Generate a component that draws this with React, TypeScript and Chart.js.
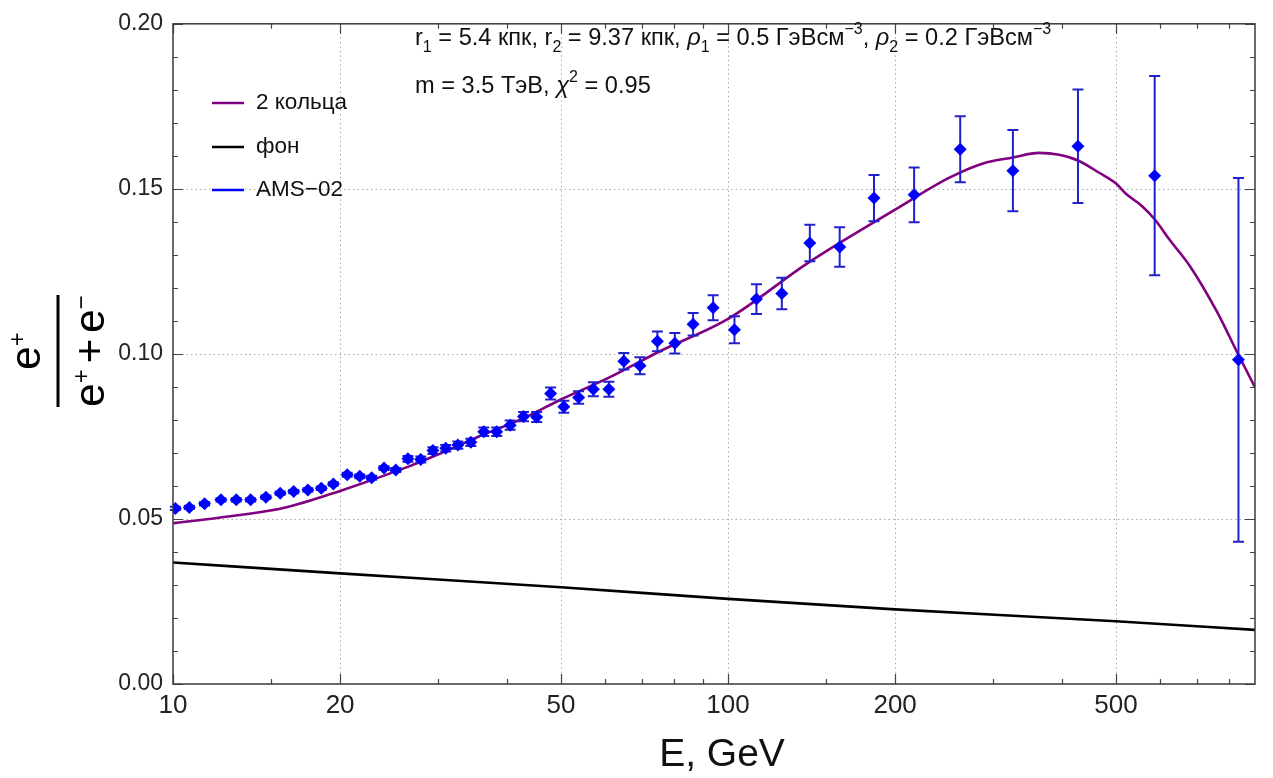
import React, { useEffect, useRef } from 'react';
import { Chart, registerables } from 'chart.js';

Chart.register(...registerables);

const W = 1273;
const H = 778;
const FF = '"Liberation Sans", Arial, Helvetica, sans-serif';

// ---- axis ticks ----
const xTickValues = [10, 20, 50, 100, 200, 500];
const xMinorTicks = [15, 30, 40, 60, 70, 80, 90, 150, 300, 400, 600, 700, 800];
const xGridValues = [20, 50, 100, 200, 500];
const yTickValues = [0, 0.05, 0.1, 0.15, 0.2];
const yMinorTicks = [0.01, 0.02, 0.03, 0.04, 0.06, 0.07, 0.08, 0.09, 0.11, 0.12, 0.13, 0.14, 0.16, 0.17, 0.18, 0.19];
const yGridValues = [0.05, 0.1, 0.15];

// ---- AMS-02 data ----
const amsEnergy = [10.1, 10.7, 11.4, 12.2, 13.0, 13.8, 14.7, 15.6, 16.5, 17.5, 18.5, 19.45, 20.6, 21.7, 22.8, 24.0, 25.2,
  26.5, 27.95, 29.4, 31.0, 32.6, 34.4, 36.3, 38.3, 40.5, 42.8, 45.2, 47.9, 50.6, 53.8, 57.2, 61.0, 64.9, 69.4,
  74.6, 80.2, 86.5, 94.0, 102.7, 112.5, 125, 140.4, 158.9, 183.2, 216.4, 262, 326, 427, 587, 831];
const amsFraction = [0.0532, 0.0535, 0.0546, 0.0558, 0.0558, 0.0558, 0.0566, 0.0578, 0.0583, 0.0588, 0.0593, 0.0606,
  0.0634, 0.0629, 0.0625, 0.0654, 0.0648, 0.0682, 0.0680, 0.0707, 0.0714, 0.0724, 0.0732, 0.0764, 0.0764, 0.0784,
  0.0810, 0.0809, 0.0880, 0.0840, 0.0868, 0.0893, 0.0893, 0.0978, 0.0964, 0.1038, 0.1032, 0.1090, 0.1140, 0.1073,
  0.1166, 0.1183, 0.1336, 0.1324, 0.1472, 0.1482, 0.1620, 0.1555, 0.1629, 0.1540, 0.0982];
const amsError = [0.0005, 0.0005, 0.0005, 0.0005, 0.0005, 0.0005, 0.0005, 0.0005, 0.0005, 0.0005, 0.0005, 0.0005,
  0.0006, 0.0006, 0.0006, 0.0006, 0.0006, 0.0009, 0.0009, 0.0010, 0.0010, 0.0011, 0.0011, 0.0013, 0.0013, 0.0014,
  0.0014, 0.0015, 0.0018, 0.0018, 0.0019, 0.0021, 0.0023, 0.0025, 0.0026, 0.0030, 0.0031, 0.0034, 0.0038, 0.0041,
  0.0045, 0.0048, 0.0055, 0.0060, 0.0070, 0.0083, 0.0100, 0.0123, 0.0172, 0.0302, 0.0551];

// ---- model "2 кольца" ----
const modelEnergy = [10, 12, 15.8, 20, 26.7, 30, 36.2, 42.8, 50, 61, 75.4, 100, 140, 200, 250, 288, 326, 363, 395,
  427, 467, 500, 521, 556, 587, 625, 680, 760, 831, 890];
const modelFraction = [0.0487, 0.0503, 0.0533, 0.0585, 0.0660, 0.0695, 0.0755, 0.0805, 0.0862, 0.0928, 0.1008,
  0.1106, 0.1278, 0.1437, 0.1533, 0.1577, 0.1595, 0.1609, 0.1603, 0.1586, 0.1548, 0.1516, 0.1485, 0.1449,
  0.1408, 0.1345, 0.1265, 0.1128, 0.0997, 0.0899];

// ---- background "фон" ----
const bgEnergy = [10, 20, 50, 100, 200, 500, 890];
const bgFraction = [0.0368, 0.0335, 0.0293, 0.0258, 0.0226, 0.0190, 0.0164];

const MODEL_COLOR = '#800080';
const BG_COLOR = '#000000';
const AMS_COLOR = '#0000ff';
const ERR_COLOR = '#2020cc';

type Seg = { t: string; k?: 'sub' | 'sup'; i?: boolean };

function drawRich(ctx: CanvasRenderingContext2D, x: number, y: number, segs: Seg[], base: number, small: number) {
  let cx = x;
  for (const s of segs) {
    const size = s.k ? small : base;
    ctx.font = `${s.i ? 'italic ' : ''}${size}px ${FF}`;
    const dy = s.k === 'sub' ? base * 0.3 : s.k === 'sup' ? -base * 0.45 : 0;
    ctx.fillText(s.t, cx, y + dy);
    cx += ctx.measureText(s.t).width;
  }
  return cx - x;
}

const line1: Seg[] = [
  { t: 'r' }, { t: '1', k: 'sub' }, { t: ' = 5.4 кпк, r' }, { t: '2', k: 'sub' }, { t: ' = 9.37 кпк, ' },
  { t: 'ρ', i: true }, { t: '1', k: 'sub' }, { t: ' = 0.5 ГэВсм' }, { t: '−3', k: 'sup' }, { t: ', ' },
  { t: 'ρ', i: true }, { t: '2', k: 'sub' }, { t: ' = 0.2 ГэВсм' }, { t: '−3', k: 'sup' },
];
const line2: Seg[] = [
  { t: 'm = 3.5 ТэВ, ' }, { t: 'χ', i: true }, { t: '2', k: 'sup' }, { t: ' = 0.95' },
];

const legendItems = [
  { label: '2 кольца', color: MODEL_COLOR },
  { label: 'фон', color: BG_COLOR },
  { label: 'AMS−02', color: AMS_COLOR },
];

const decorPlugin = {
  id: 'decor',
  beforeDatasetsDraw(chart: any) {
    const { ctx, chartArea: a, scales } = chart;
    const xs = scales.x, ys = scales.y;
    ctx.save();
    ctx.strokeStyle = '#aaaaaa';
    ctx.lineWidth = 1;
    ctx.setLineDash([1.5, 3]);
    for (const v of xGridValues) {
      const px = Math.round(xs.getPixelForValue(v)) + 0.5;
      ctx.beginPath(); ctx.moveTo(px, a.top); ctx.lineTo(px, a.bottom); ctx.stroke();
    }
    for (const v of yGridValues) {
      const py = Math.round(ys.getPixelForValue(v)) + 0.5;
      ctx.beginPath(); ctx.moveTo(a.left, py); ctx.lineTo(a.right, py); ctx.stroke();
    }
    ctx.restore();
  },
  beforeDatasetDraw(chart: any, args: any) {
    if (args.index !== 0) return;
    const { ctx, scales } = chart;
    const xs = scales.x, ys = scales.y;
    ctx.save();
    ctx.strokeStyle = ERR_COLOR;
    ctx.lineWidth = 2;
    for (let i = 0; i < amsEnergy.length; i++) {
      const px = xs.getPixelForValue(amsEnergy[i]);
      const top = ys.getPixelForValue(amsFraction[i] + amsError[i]);
      const bot = ys.getPixelForValue(amsFraction[i] - amsError[i]);
      ctx.beginPath();
      ctx.moveTo(px, top); ctx.lineTo(px, bot);
      ctx.moveTo(px - 5.5, top); ctx.lineTo(px + 5.5, top);
      ctx.moveTo(px - 5.5, bot); ctx.lineTo(px + 5.5, bot);
      ctx.stroke();
    }
    ctx.restore();
  },
  afterDatasetsDraw(chart: any) {
    const { ctx, chartArea: a, scales } = chart;
    const xs = scales.x, ys = scales.y;
    ctx.save();
    ctx.strokeStyle = '#444444';
    ctx.lineWidth = 1.2;
    const tick = (vals: number[], len: number, horiz: boolean) => {
      for (const v of vals) {
        if (horiz) {
          const px = Math.round(xs.getPixelForValue(v)) + 0.5;
          ctx.beginPath();
          ctx.moveTo(px, a.bottom); ctx.lineTo(px, a.bottom - len);
          ctx.moveTo(px, a.top); ctx.lineTo(px, a.top + len);
          ctx.stroke();
        } else {
          const py = Math.round(ys.getPixelForValue(v)) + 0.5;
          ctx.beginPath();
          ctx.moveTo(a.left, py); ctx.lineTo(a.left + len, py);
          ctx.moveTo(a.right, py); ctx.lineTo(a.right - len, py);
          ctx.stroke();
        }
      }
    };
    tick(xTickValues, 10, true);
    tick(xMinorTicks, 5, true);
    tick(yTickValues, 10, false);
    tick(yMinorTicks, 5, false);
    ctx.lineWidth = 1.5;
    ctx.strokeStyle = '#3a3a3a';
    ctx.strokeRect(a.left, a.top, a.right - a.left, a.bottom - a.top);
    ctx.restore();
  },
  afterDraw(chart: any) {
    const { ctx } = chart;
    ctx.save();
    ctx.fillStyle = '#111111';
    ctx.textBaseline = 'alphabetic';
    ctx.textAlign = 'left';
    // annotations
    drawRich(ctx, 415, 45, line1, 23.6, 16);
    drawRich(ctx, 415, 93, line2, 23.6, 16);
    // legend
    const ly = [103, 147, 190];
    legendItems.forEach((it, i) => {
      ctx.strokeStyle = it.color;
      ctx.lineWidth = 2.5;
      ctx.beginPath(); ctx.moveTo(212, ly[i]); ctx.lineTo(244, ly[i]); ctx.stroke();
      ctx.fillStyle = '#111111';
      ctx.font = `22.5px ${FF}`;
      ctx.textBaseline = 'middle';
      ctx.fillText(it.label, 256, ly[i]);
    });
    // x title
    ctx.textBaseline = 'alphabetic';
    ctx.textAlign = 'center';
    ctx.font = `39px ${FF}`;
    ctx.fillText('E, GeV', 722, 766);
    // y title (fraction), rotated
    ctx.translate(0, 351);
    ctx.rotate(-Math.PI / 2);
    ctx.textAlign = 'left';
    ctx.fillStyle = '#000000';
    const big = `42px ${FF}`;
    const sup = `24px ${FF}`;
    ctx.font = big; const we = ctx.measureText('e').width; const wplus = ctx.measureText('+').width;
    ctx.font = sup; const wsp = ctx.measureText('+').width; const wsm = ctx.measureText('−').width;
    // numerator
    let x0 = -(we + wsp) / 2;
    ctx.font = big; ctx.fillText('e', x0, 40);
    ctx.font = sup; ctx.fillText('+', x0 + we, 25);
    // bar
    ctx.fillRect(-56, 56.5, 112, 3);
    // denominator
    const gap = 6;
    const total = we + wsp + gap + wplus + gap + we + wsm;
    x0 = -total / 2;
    ctx.font = big; ctx.fillText('e', x0, 104); x0 += we;
    ctx.font = sup; ctx.fillText('+', x0, 89); x0 += wsp + gap;
    ctx.font = big; ctx.fillText('+', x0, 104); x0 += wplus + gap;
    ctx.fillText('e', x0, 104); x0 += we;
    ctx.font = sup; ctx.fillText('−', x0, 89);
    ctx.restore();
  },
};

export default function App() {
  const ref = useRef<HTMLCanvasElement | null>(null);
  useEffect(() => {
    if (!ref.current) return;
    const chart = new Chart(ref.current, {
      type: 'scatter',
      data: {
        datasets: [
          {
            label: 'AMS−02',
            data: amsEnergy.map((x, i) => ({ x, y: amsFraction[i] })),
            showLine: false,
            pointStyle: 'rectRot',
            pointRadius: 6.5,
            pointBackgroundColor: AMS_COLOR,
            pointBorderWidth: 0,
            backgroundColor: AMS_COLOR,
            borderColor: AMS_COLOR,
          },
          {
            label: '2 кольца',
            data: modelEnergy.map((x, i) => ({ x, y: modelFraction[i] })),
            showLine: true,
            borderColor: MODEL_COLOR,
            borderWidth: 2.6,
            pointRadius: 0,
            cubicInterpolationMode: 'monotone',
          },
          {
            label: 'фон',
            data: bgEnergy.map((x, i) => ({ x, y: bgFraction[i] })),
            showLine: true,
            borderColor: BG_COLOR,
            borderWidth: 2.6,
            pointRadius: 0,
            cubicInterpolationMode: 'monotone',
          },
        ],
      },
      options: {
        animation: false,
        responsive: false,
        events: [],
        layout: { padding: { left: 0, top: 15, right: 18, bottom: 0 } },
        plugins: { legend: { display: false }, tooltip: { enabled: false } },
        scales: {
          x: {
            type: 'logarithmic',
            min: 10,
            max: 890,
            afterBuildTicks: (s: any) => { s.ticks = xTickValues.map((v) => ({ value: v })); },
            afterFit: (s: any) => { s.height = 94; },
            ticks: {
              autoSkip: false,
              maxRotation: 0,
              minRotation: 0,
              padding: 6,
              color: '#222222',
              font: { size: 26, family: FF },
              callback: (v: any) => String(v),
            },
            grid: { display: false, drawTicks: false },
            border: { display: false },
          },
          y: {
            type: 'linear',
            min: 0,
            max: 0.2,
            afterBuildTicks: (s: any) => { s.ticks = yTickValues.map((v) => ({ value: v })); },
            afterFit: (s: any) => { s.width = 173; },
            ticks: {
              padding: 10,
              color: '#222222',
              font: { size: 23, family: FF },
              callback: (v: any) => Number(v).toFixed(2),
            },
            grid: { display: false, drawTicks: false },
            border: { display: false },
          },
        },
      },
      plugins: [decorPlugin],
    } as any);
    return () => chart.destroy();
  }, []);
  return (
    <div style={{ position: 'absolute', left: 0, top: 0, width: W, height: H, background: '#ffffff' }}>
      <canvas ref={ref} width={W} height={H} style={{ display: 'block' }} />
    </div>
  );
}
